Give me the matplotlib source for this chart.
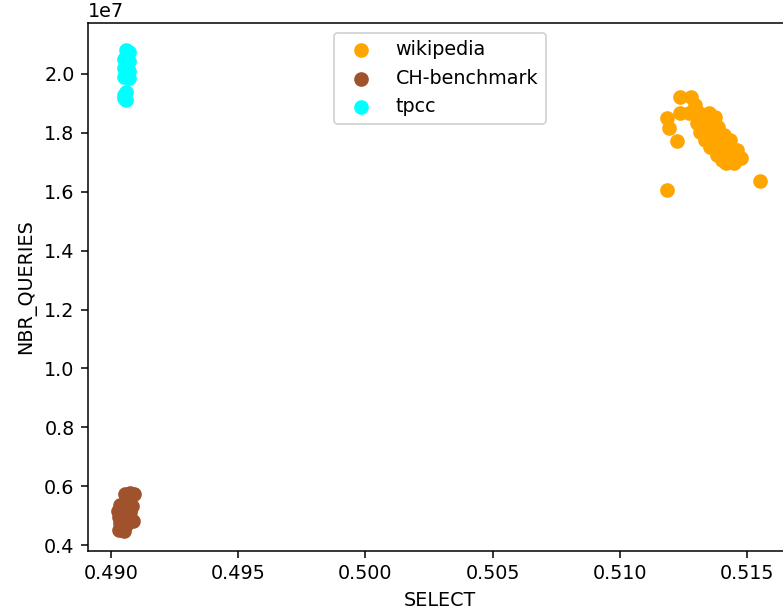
import matplotlib
matplotlib.use('Agg')
import matplotlib.pyplot as plt

# wikipedia cluster (SELECT ratio, NBR_QUERIES)
wiki_select = [0.51186, 0.51551, 0.51226, 0.51191, 0.51184, 0.51234, 0.51279,
               0.51296, 0.51237, 0.51270, 0.51310, 0.51348, 0.51375, 0.51302,
               0.51335, 0.51315, 0.51354, 0.51387, 0.51335, 0.51375, 0.51407,
               0.51354, 0.51393, 0.51432, 0.51380, 0.51420, 0.51459, 0.51415,
               0.51448, 0.51474, 0.51432, 0.51400]
wiki_queries = [1.606e7, 1.638e7, 1.773e7, 1.816e7, 1.850e7, 1.921e7, 1.921e7,
                1.895e7, 1.866e7, 1.869e7, 1.866e7, 1.866e7, 1.855e7, 1.833e7,
                1.838e7, 1.804e7, 1.816e7, 1.821e7, 1.776e7, 1.787e7, 1.793e7,
                1.753e7, 1.759e7, 1.776e7, 1.725e7, 1.731e7, 1.742e7, 1.697e7,
                1.697e7, 1.714e7, 1.708e7, 1.708e7]

# CH-benchmark cluster
ch_select = [0.49055, 0.49075, 0.49090, 0.49067, 0.49035, 0.49059, 0.49083,
             0.49028, 0.49051, 0.49075, 0.49031, 0.49063, 0.49086, 0.49035,
             0.49059, 0.49031, 0.49051]
ch_queries = [0.573e7, 0.577e7, 0.573e7, 0.553e7, 0.536e7, 0.526e7, 0.533e7,
              0.516e7, 0.509e7, 0.512e7, 0.495e7, 0.488e7, 0.482e7, 0.475e7,
              0.468e7, 0.451e7, 0.448e7]

# tpcc cluster
tpcc_select = [0.4906, 0.4907, 0.4906, 0.4905, 0.4907, 0.4906, 0.4905, 0.4907,
               0.4906, 0.4905, 0.4907, 0.4906, 0.4906, 0.4905, 0.4906, 0.4905]
tpcc_queries = [2.08e7, 2.075e7, 2.06e7, 2.05e7, 2.045e7, 2.03e7, 2.02e7, 2.01e7,
                2.0e7, 1.99e7, 1.985e7, 2.04e7, 1.94e7, 1.92e7, 1.91e7, 1.93e7]

dpi = 138
fig = plt.figure(figsize=(783 / dpi, 613 / dpi), dpi=dpi)
ax = fig.add_axes([88 / 783, 62 / 613, 704 / 783, 528 / 613])

ax.scatter(wiki_select, wiki_queries, s=44, color='orange', label='wikipedia')
ax.scatter(ch_select, ch_queries, s=44, color='sienna', label='CH-benchmark')
ax.scatter(tpcc_select, tpcc_queries, s=44, color='cyan', label='tpcc')

ax.set_xlim(0.48910, 0.51676)
ax.set_ylim(0.38e7, 2.173e7)
ax.set_xlabel('SELECT')
ax.set_ylabel('NBR_QUERIES')
ax.legend(loc='upper center')

fig.savefig('out.png', dpi=dpi)
